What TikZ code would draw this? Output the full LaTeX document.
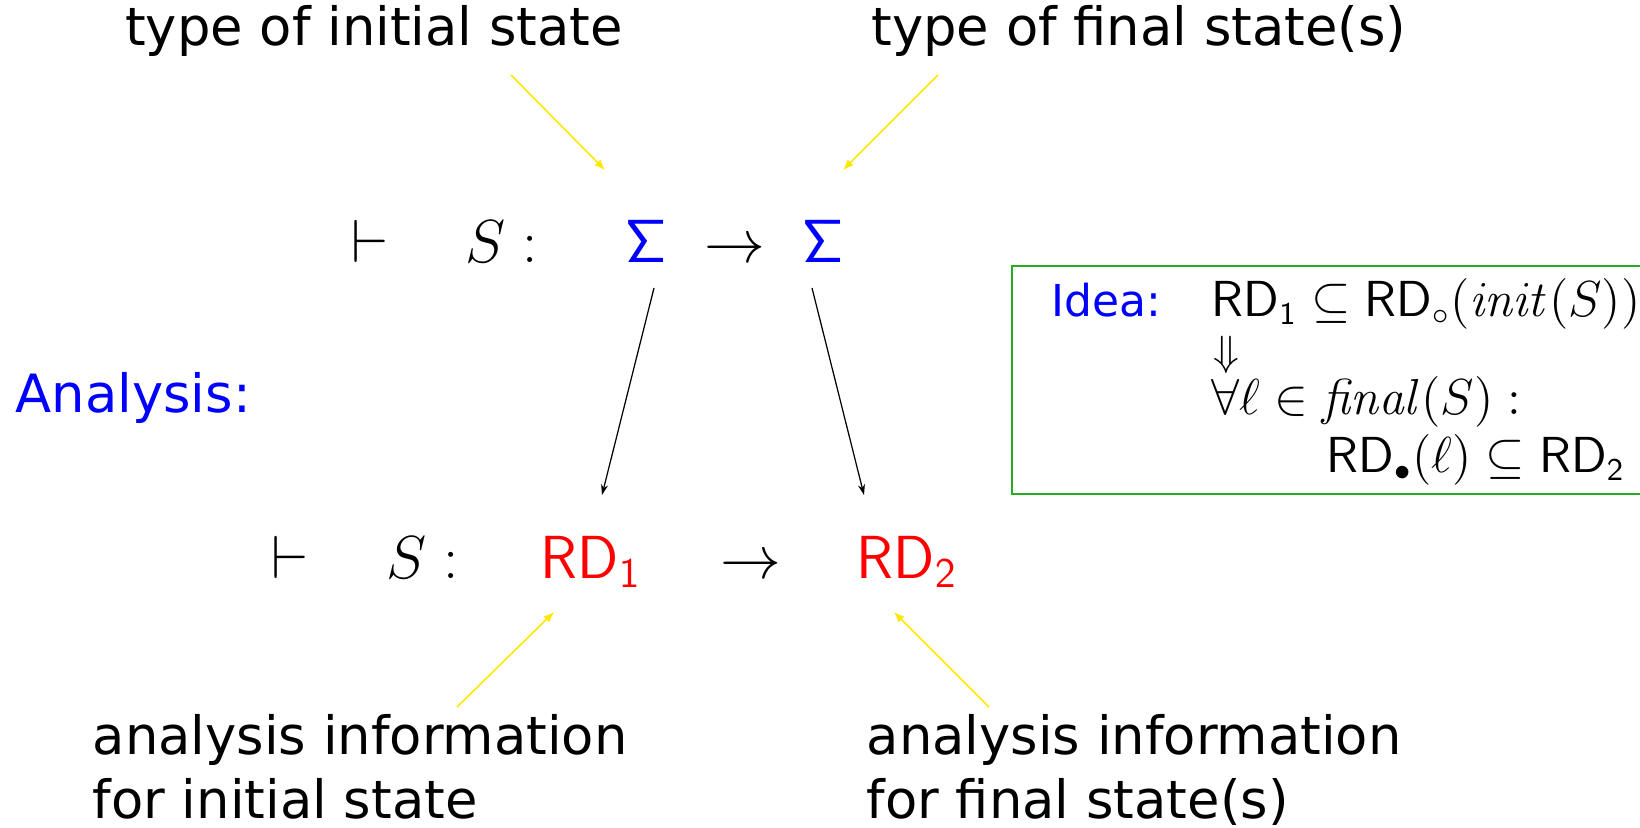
\documentclass[tikz,border=0pt]{standalone}
\usepackage{amsmath,amssymb}
\usepackage[no-math]{fontspec}
\newfontfamily\dejavu{DejaVu Sans}
\usepackage{tikz}
\usetikzlibrary{arrows.meta,positioning,calc}
\definecolor{hintyellow}{RGB}{255,232,0}
\definecolor{boxgreen}{RGB}{40,170,40}

\begin{document}
\begin{tikzpicture}[
  x=0.01cm, y=-0.01cm,
  note/.style={font=\dejavu\fontsize{15}{18}\selectfont, align=left, inner sep=0pt},
  term/.style={font=\fontsize{16.5}{20}\selectfont, anchor=base, inner sep=0pt},
  idea/.style={font=\fontsize{13.3}{16}\selectfont, anchor=base west, inner sep=0pt},
  hint/.style={-{Latex[length=3pt,width=2.4pt]}, hintyellow, line width=0.45pt},
  flow/.style={-{Stealth[length=3pt,width=2pt]}, black, line width=0.35pt},
]
  \useasboundingbox (0,0) rectangle (1640,828);
  \def\ytop{263}  % baseline of the type row
  \def\ybot{578}  % baseline of the analysis row

  % Type row
  \node[term] (vdT) at (370,\ytop) {$\vdash$};
  \node[term] (stmtT) at (502,\ytop) {$S:$};
  \node[term, text=blue] (sigIn) at (646,\ytop) {$\mathsf{\Sigma}$};
  \node[term] (arrT) at (735,\ytop) {$\rightarrow$};
  \node[term, text=blue] (sigOut) at (823,\ytop) {$\mathsf{\Sigma}$};

  % Analysis row
  \node[term] (vdA) at (290,\ybot) {$\vdash$};
  \node[term] (stmtA) at (423,\ybot) {$S:$};
  \node[term, text=red] (rdIn) at (591,\ybot) {$\mathsf{RD}_{\mathsf{1}}$};
  \node[term] (arrA) at (751,\ybot) {$\rightarrow$};
  \node[term, text=red] (rdOut) at (907,\ybot) {$\mathsf{RD}_{\mathsf{2}}$};

  \node[note, text=blue, anchor=base west] (ana) at (15,413) {Analysis:};

  % Captions
  \node[note, anchor=base] (tInit) at (374,46) {type of initial state};
  \node[note, anchor=base] (tFin) at (1139,46) {type of final state(s)};
  \node[note, anchor=north west] (aInit) at (92,714)
    {analysis information\\for initial state};
  \node[note, anchor=north west] (aFin) at (866,714)
    {analysis information\\for final state(s)};

  % Idea box
  \draw[boxgreen, line width=0.6pt] (1640,266) -| (1012,494) -- (1640,494);
  \node[font=\dejavu\fontsize{12.5}{15}\selectfont, text=blue,
    anchor=base west, inner sep=0pt] (ideaTag) at (1051,317) {Idea:};
  \node[idea] (ideaA) at (1211,317)
    {$\mathsf{RD}_{\mathsf{1}}\subseteq\mathsf{RD}_{\circ}(\mathit{init}(S))$};
  \node[idea, font=\fontsize{12.3}{14}\selectfont] (ideaB) at (1213,366) {$\Downarrow$};
  \node[idea] (ideaC) at (1211,415) {$\forall\ell\in\mathit{final}(S):$};
  \node[idea] (ideaD) at (1326,473)
    {$\mathsf{RD}_{\bullet}(\ell)\subseteq\mathsf{RD}_{\mathsf{2}}$};

  % Yellow hints
  \draw[hint] ([shift={(137,29)}]tInit.base) -- ([shift={(-41,-93)}]sigIn.base);
  \draw[hint] ([shift={(-201,29)}]tFin.base) -- ([shift={(20,-93)}]sigOut.base);
  \draw[hint] ([shift={(365,-7)}]aInit.north west) -- ([shift={(-37,34)}]rdIn.base);
  \draw[hint] ([shift={(123,-7)}]aFin.north west) -- ([shift={(-13,34)}]rdOut.base);

  % Sigma to RD
  \draw[flow] ([shift={(8,25)}]sigIn.base) -- ([shift={(11,-83)}]rdIn.base);
  \draw[flow] ([shift={(-11,25)}]sigOut.base) -- ([shift={(-43,-83)}]rdOut.base);
\end{tikzpicture}
\end{document}
